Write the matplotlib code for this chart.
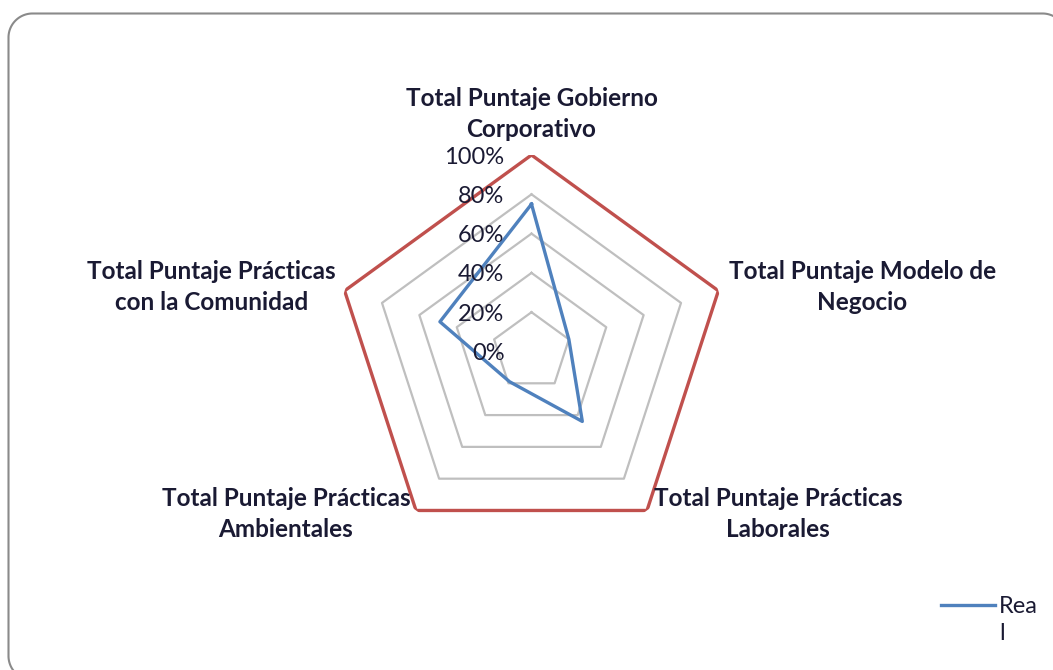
import numpy as np
import matplotlib
matplotlib.use("Agg")
import matplotlib.pyplot as plt
from matplotlib.lines import Line2D
from matplotlib.transforms import IdentityTransform

categories = [
    "Total Puntaje Gobierno\nCorporativo",
    "Total Puntaje Modelo de\nNegocio",
    "Total Puntaje Prácticas\nLaborales",
    "Total Puntaje Prácticas\nAmbientales",
    "Total Puntaje Prácticas\ncon la Comunidad",
]
real = [0.75, 0.20, 0.44, 0.19, 0.49]
meta = [1.0, 1.0, 1.0, 1.0, 1.0]
ticks = [0.0, 0.2, 0.4, 0.6, 0.8, 1.0]
tick_labels = ["0%", "20%", "40%", "60%", "80%", "100%"]
legend_label = "Rea\nl"

W, H = 1053, 670
fig = plt.figure(figsize=(W / 100, H / 100), dpi=100)
plt.rcParams['font.family'] = ['Lato', 'DejaVu Sans']

# chart-area border: open rounded outline (display pixels, origin bottom-left)
left, right, top, bottom, rr = 8.5, 1066.5, H - 13.5, -10.0, 24.0
def arc(cxp, cyp, a0, a1):
    a = np.radians(np.linspace(a0, a1, 40))
    return cxp + rr * np.cos(a), cyp + rr * np.sin(a)
xs, ys = [], []
x1, y1 = arc(right - rr, top - rr, 0, 90)
x2, y2 = arc(left + rr, top - rr, 90, 180)
x3, y3 = arc(left + rr, bottom + rr, 180, 270)
bx = np.concatenate([x1, x2, x3])
by = np.concatenate([y1, y2, y3])
keep = (bx <= W + 1) & (by >= -1)
fig.add_artist(Line2D(bx[keep], by[keep], color="#8a8a8a", lw=1.5,
                      transform=IdentityTransform(), solid_joinstyle='round'))

cx, cy, R = 531.5, 351.5, 196.5
ax = fig.add_axes([(cx - R) / W, (H - cy - R) / H, 2 * R / W, 2 * R / H], projection='polar')
ax.set_theta_offset(np.pi / 2)
ax.set_theta_direction(-1)
ax.set_ylim(0, 1)
ax.set_axis_off()

n = len(categories)
angles = np.linspace(0, 2 * np.pi, n, endpoint=False)
ang_c = np.concatenate([angles, angles[:1]])

for t in ticks[1:-1]:
    ax.plot(ang_c, [t] * (n + 1), color="#bfbfbf", lw=1.6, zorder=1)

ax.plot(ang_c, meta + meta[:1], color="#c0504d", lw=2.4, zorder=2)
ax.plot(ang_c, real + real[:1], color="#4f81bd", lw=2.4, zorder=3)

text_color = "#1a1a33"
for t, lab in zip(ticks, tick_labels):
    ax.annotate(lab, xy=(0, t), xytext=(-27, -2), textcoords='offset pixels',
                ha='right', va='center', fontsize=17, color=text_color, zorder=4,
                annotation_clip=False)

offsets = [(0, 41), (144, 4), (131, -4), (-130, -4), (-133, 4)]
for a, lab, off in zip(angles, categories, offsets):
    ax.annotate(lab, xy=(a, 1.0), xytext=off, textcoords='offset pixels',
                ha='center', va='center', fontsize=17.5, fontweight='bold',
                color=text_color, linespacing=1.42, annotation_clip=False)

# legend
fig.add_artist(Line2D([941 / W, 995 / W], [1 - 605 / H, 1 - 605 / H],
                      color="#4f81bd", lw=2.4, transform=fig.transFigure))
fig.text(999 / W, 1 - 620 / H, legend_label, ha='left', va='center',
         fontsize=17, color=text_color, linespacing=1.35)

fig.savefig("out.png", dpi=100)
